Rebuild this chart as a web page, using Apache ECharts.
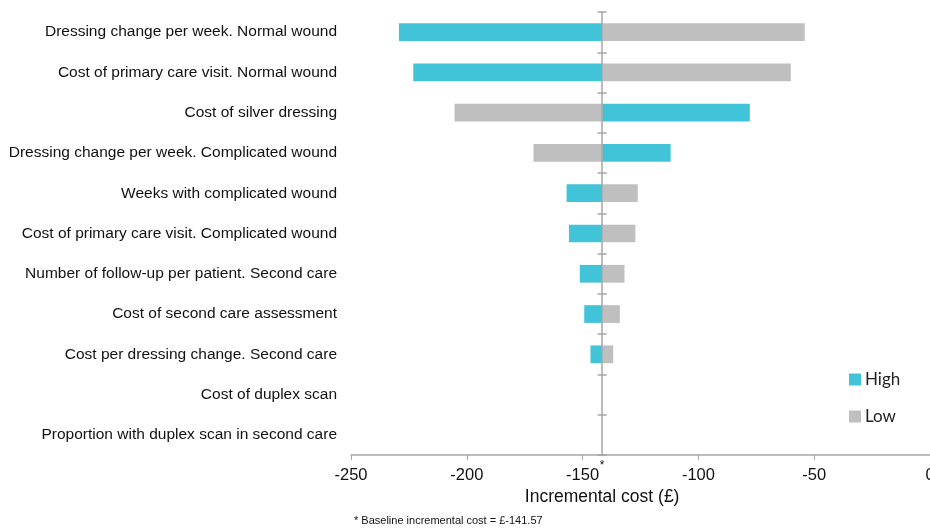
<!DOCTYPE html>
<html>
<head>
<meta charset="utf-8">
<script src="https://cdn.jsdelivr.net/npm/echarts@6/dist/echarts.min.js"></script>
<style>html,body{margin:0;padding:0;background:#fff}#c{width:930px;height:529px}</style>
</head>
<body>
<div id="c"></div>
<script>
const categories = [
  'Dressing change per week. Normal wound',
  'Cost of primary care visit. Normal wound',
  'Cost of silver dressing',
  'Dressing change per week. Complicated wound',
  'Weeks with complicated wound',
  'Cost of primary care visit. Complicated wound',
  'Number of follow-up per patient. Second care',
  'Cost of second care assessment',
  'Cost per dressing change. Second care',
  'Cost of duplex scan',
  'Proportion with duplex scan in second care'
];
const baseline = -141.57;
const highValues = [-229.3, -223.1, -77.8, -112.0, -156.9, -155.9, -151.2, -149.3, -146.6, -141.57, -141.57];
const lowValues  = [-54.1, -60.1, -205.3, -171.2, -126.2, -127.2, -131.9, -133.9, -136.8, -141.57, -141.57];
const xTicks = { min: -250, max: 0, interval: 50 };

const colHigh = '#42C4D8';
const colLow = '#BFBFBF';
const axisCol = '#A6A6A6';

function mkRender(color) {
  return function (params, api) {
    const v = api.value(1);
    const cat = api.value(0);
    const p0 = api.coord([baseline, cat]);
    const p1 = api.coord([v, cat]);
    const h = api.size([0, 1])[1] * 0.44;
    const x = Math.min(p0[0], p1[0]);
    const w = Math.abs(p1[0] - p0[0]);
    return {
      type: 'rect',
      shape: { x: x, y: p0[1] - h / 2, width: w, height: h },
      style: { fill: color }
    };
  };
}

const chart = echarts.init(document.getElementById('c'), null, { renderer: 'canvas' });
const baseFont = "'Liberation Sans', Arial, sans-serif";

const yBase = {
  type: 'category', data: categories, inverse: true, position: 'left'
};

const option = {
  animation: false,
  grid: { left: 351, right: 0, top: 12, bottom: 74, containLabel: false, outerBoundsMode: 'none' },
  legend: {
    orient: 'vertical', left: 849, top: 371, itemWidth: 12, itemHeight: 12, itemGap: 20,
    padding: 0, icon: 'rect',
    textStyle: { fontFamily: 'Lato, "Open Sans", sans-serif', fontSize: 17, color: '#222', padding: [0, 0, 0, -1] },
    data: ['High', 'Low']
  },
  xAxis: {
    type: 'value', min: xTicks.min, max: xTicks.max, interval: xTicks.interval,
    splitLine: { show: false },
    axisLine: { show: true, lineStyle: { color: axisCol, width: 1.5 } },
    axisTick: { show: true, length: 5, lineStyle: { color: axisCol } },
    axisLabel: { fontFamily: baseFont, fontSize: 16.5, color: '#111', margin: 12, hideOverlap: false }
  },
  yAxis: [
    Object.assign({}, yBase, {
      axisLine: { show: false, onZero: false }, axisTick: { show: false },
      axisLabel: { fontFamily: baseFont, fontSize: 15.5, color: '#111', margin: 14 }
    }),
    Object.assign({}, yBase, {
      z: 5,
      axisLine: { show: true, onZero: false, lineStyle: { color: axisCol, width: 1.5 } },
      axisTick: { show: true, inside: true, length: 4.5, lineStyle: { color: axisCol, width: 1.5 } },
      axisLabel: { show: false }, offset: 0
    }),
    Object.assign({}, yBase, {
      z: 5,
      axisLine: { show: false, onZero: false },
      axisTick: { show: true, inside: false, length: 4.5, lineStyle: { color: axisCol, width: 1.5 } },
      axisLabel: { show: false }, offset: 0
    })
  ],
  series: [
    {
      name: 'High', type: 'custom', yAxisIndex: 0,
      itemStyle: { color: colHigh },
      renderItem: mkRender(colHigh),
      encode: { y: 0, x: 1 },
      data: categories.map((c, i) => [i, highValues[i]])
    },
    {
      name: 'Low', type: 'custom', yAxisIndex: 0,
      itemStyle: { color: colLow },
      renderItem: mkRender(colLow),
      encode: { y: 0, x: 1 },
      data: categories.map((c, i) => [i, lowValues[i]])
    }
  ]
};
chart.setOption(option);

const px = chart.convertToPixel({ xAxisIndex: 0 }, baseline);
const gridLeft = 351;
chart.setOption({
  yAxis: [{}, { offset: gridLeft - px }, { offset: gridLeft - px }],
  graphic: [
    { type: 'text', x: px, y: 466, z: 10, style: { text: '*', font: '12px ' + baseFont, fill: '#111', textAlign: 'center', textVerticalAlign: 'middle' } },
    { type: 'text', x: px, y: 497, style: { text: 'Incremental cost (£)', font: '17.5px ' + baseFont, fill: '#111', textAlign: 'center', textVerticalAlign: 'middle' } },
    { type: 'text', x: 354, y: 521, style: { text: '* Baseline incremental cost = £-141.57', font: '11px ' + baseFont, fill: '#111', textVerticalAlign: 'middle' } }
  ]
});
</script>
</body>
</html>
